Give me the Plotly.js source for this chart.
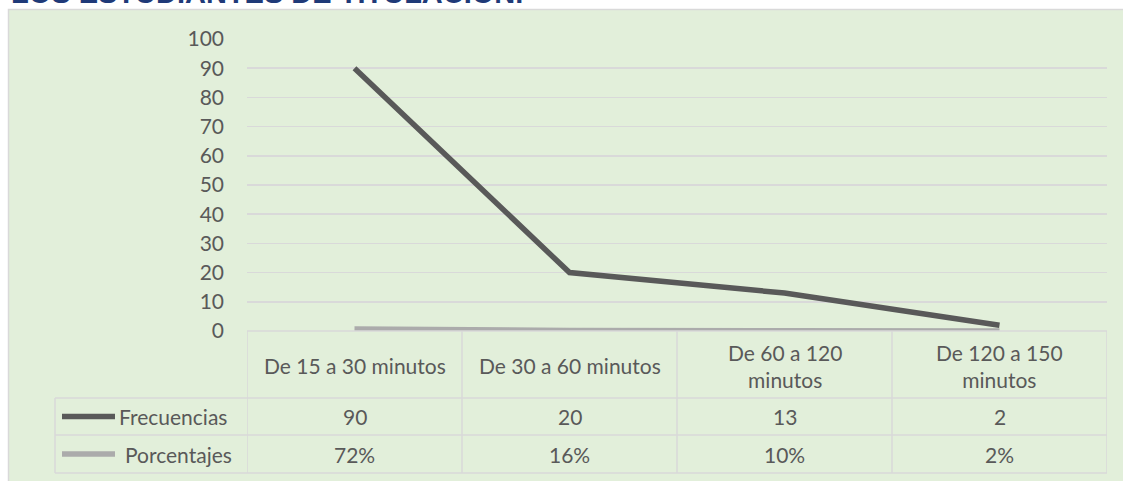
<!DOCTYPE html>
<html>
<head>
<meta charset="utf-8">
<script src="https://cdn.plot.ly/plotly-3.0.1.min.js"></script>
<style>html,body{margin:0;padding:0;background:#fff;}#chart{width:1123px;height:481px;}</style>
</head>
<body>
<div id="chart"></div>
<script>
// ---- data ----
const categories = ["De 15 a 30 minutos", "De 30 a 60 minutos", "De 60 a 120 minutos", "De 120 a 150 minutos"];
const headerLabels = ["De 15 a 30 minutos", "De 30 a 60 minutos", "De 60 a 120<br>minutos", "De 120 a 150<br>minutos"];
const frecuencias = [90, 20, 13, 2];
const porcentajes = [0.72, 0.16, 0.10, 0.02];
const seriesNames = ["Frecuencias", "Porcentajes"];
const titleText = "LOS ESTUDIANTES DE TITULACION.";
const yTicks = [0, 10, 20, 30, 40, 50, 60, 70, 80, 90, 100];

// ---- layout helpers ----
const W = 1123, H = 481;
const M = {l: 247, r: 16, t: 39, b: 150};
const PW = W - M.l - M.r, PH = H - M.t - M.b;
const px = p => (p - M.l) / PW;          // pixel x -> paper x
const py = p => (H - M.b - p) / PH;      // pixel y -> paper y

const FONT = "Lato, 'Open Sans', sans-serif";
const TXT = "#595959";
const GRID = "#d9d9d9";
const C1 = "#595959", C2 = "#ababab";

const traces = [
  {x: categories, y: frecuencias, name: seriesNames[0], type: "scatter", mode: "lines",
   line: {color: C1, width: 5.5}, cliponaxis: false, hoverinfo: "x+y"},
  {x: categories, y: porcentajes, name: seriesNames[1], type: "scatter", mode: "lines",
   line: {color: C2, width: 5.5}, cliponaxis: false, hoverinfo: "x+y"}
];

const rowHeader = [331, 398];
const row1 = [398, 435];
const row2 = [435, 473];
const leftX = 55;

const shapes = [];
// chart area background
shapes.push({type: "rect", xref: "paper", yref: "paper", x0: px(8.5), x1: px(1140), y0: py(500), y1: py(9.5),
  fillcolor: "#e2efda", line: {color: "#d9d9d9", width: 1.5}, layer: "below"});
function hline(x0, x1, yp, xref) {
  shapes.push({type: "line", xref: xref || "paper", yref: "paper", x0: x0, x1: x1, y0: py(yp), y1: py(yp),
    line: {color: GRID, width: 1.5}, layer: "above"});
}
function vline(x, y0p, y1p, xref) {
  shapes.push({type: "line", xref: xref || "paper", yref: "paper", x0: x, x1: x, y0: py(y0p), y1: py(y1p),
    line: {color: GRID, width: 1.5}, layer: "above"});
}
hline(0, 1, rowHeader[0]);
hline(px(leftX), 1, row1[0]);
hline(px(leftX), 1, row2[0]);
hline(px(leftX), 1, row2[1]);
for (let i = 0; i <= categories.length; i++) vline(i - 0.5, rowHeader[0], row2[1], "x");
vline(px(leftX), row1[0], row2[1]);
// legend keys
const keyY = [(row1[0] + row1[1]) / 2, (row2[0] + row2[1]) / 2];
[C1, C2].forEach((c, i) => {
  shapes.push({type: "line", xref: "paper", yref: "paper", x0: px(62), x1: px(115), y0: py(keyY[i]), y1: py(keyY[i]),
    line: {color: c, width: 5.5}, layer: "above"});
});

const annotations = [];
// title (clipped at top as in reference)
annotations.push({text: "<b>" + titleText + "</b>", xref: "paper", yref: "paper", x: px(9), y: py(11),
  xanchor: "left", yanchor: "bottom", showarrow: false,
  font: {family: "'Liberation Sans', Arial, sans-serif", size: 29, color: "#1f3a78"}});
const tf = {family: FONT, size: 21, color: TXT};
categories.forEach((c, i) => {
  annotations.push({text: headerLabels[i], xref: "x", yref: "paper", x: c, y: py((rowHeader[0] + rowHeader[1]) / 2 + 1),
    xanchor: "center", yanchor: "middle", showarrow: false, font: tf});
  annotations.push({text: String(frecuencias[i]), xref: "x", yref: "paper", x: c, y: py(keyY[0]),
    xanchor: "center", yanchor: "middle", showarrow: false, font: tf});
  annotations.push({text: Math.round(porcentajes[i] * 100) + "%", xref: "x", yref: "paper", x: c, y: py(keyY[1]),
    xanchor: "center", yanchor: "middle", showarrow: false, font: tf});
});
annotations.push({text: seriesNames[0], xref: "paper", yref: "paper", x: px(117), y: py(keyY[0]),
  xanchor: "left", yanchor: "middle", showarrow: false, font: tf});
annotations.push({text: seriesNames[1], xref: "paper", yref: "paper", x: px(123), y: py(keyY[1]),
  xanchor: "left", yanchor: "middle", showarrow: false, font: tf});

const layout = {
  width: W, height: H,
  margin: M,
  paper_bgcolor: "#ffffff",
  plot_bgcolor: "rgba(0,0,0,0)",
  showlegend: false,
  xaxis: {type: "category", range: [-0.5, categories.length - 0.5], showticklabels: false,
    showgrid: false, zeroline: false, showline: false, fixedrange: true},
  yaxis: {range: [0, 100], tickvals: yTicks, ticktext: yTicks.map(String), showgrid: true, gridcolor: GRID, gridwidth: 1.5,
    zeroline: false, showline: false, ticks: "", ticklabelstandoff: 22,
    tickfont: {family: FONT, size: 21, color: TXT}, fixedrange: true},
  shapes: shapes,
  annotations: annotations
};

Plotly.newPlot("chart", traces, layout, {displayModeBar: false, staticPlot: true});
</script>
</body>
</html>
